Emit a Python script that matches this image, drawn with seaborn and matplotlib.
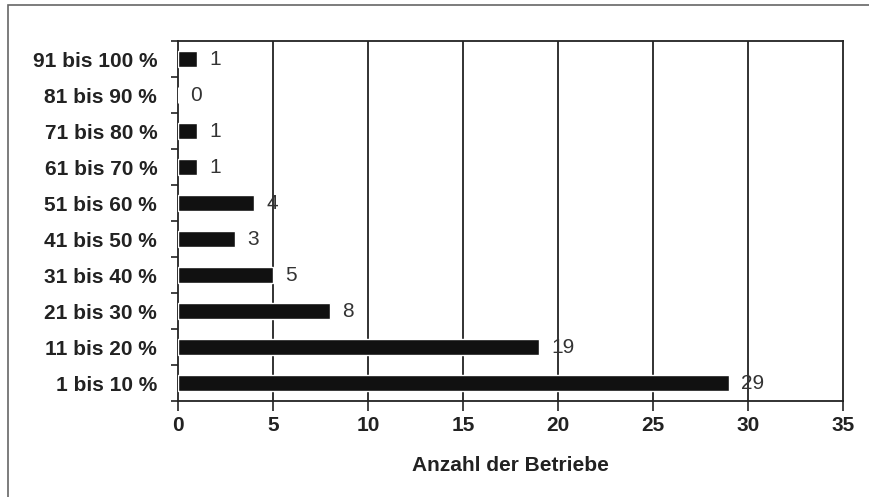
import matplotlib
matplotlib.use("Agg")
import matplotlib.pyplot as plt
from matplotlib.patches import Rectangle
import seaborn as sns
import pandas as pd

categories = ["91 bis 100 %", "81 bis 90 %", "71 bis 80 %", "61 bis 70 %", "51 bis 60 %",
              "41 bis 50 %", "31 bis 40 %", "21 bis 30 %", "11 bis 20 %", "1 bis 10 %"]
counts = [1, 0, 1, 1, 4, 3, 5, 8, 19, 29]
x_ticks = [0, 5, 10, 15, 20, 25, 30, 35]

sns.set_style("white")
plt.rcParams['font.family'] = ['Liberation Sans', 'DejaVu Sans']

df = pd.DataFrame({"Bereich": categories, "Anzahl": counts})

fig = plt.figure(figsize=(8.7, 4.97), dpi=100)
ax = fig.add_axes([0.2046, 0.193, 0.7644, 0.7245])

sns.barplot(data=df, y="Bereich", x="Anzahl", order=categories, orient="h",
            color="#111111", width=0.45, saturation=1, ax=ax, zorder=3)

# vertical grid lines
ax.set_xlim(0, 35)
ax.set_xticks(x_ticks)
for xv in x_ticks[1:-1]:
    ax.axvline(xv, color="#222222", lw=1.3, zorder=1)

# value labels next to the bars
for i, v in enumerate(counts):
    ax.text(v + 0.65, i, str(v), va="center", ha="left", fontsize=15, color="#333333", zorder=4)

# y ticks between categories (minor), no major tick marks
ax.set_yticks(range(len(categories)))
ax.set_yticklabels(categories, fontsize=15, fontweight="bold", color="#222222")
ax.set_yticks([i + 0.5 for i in range(-1, len(categories))], minor=True)
ax.tick_params(axis="y", which="major", length=0, pad=15)
ax.tick_params(axis="y", which="minor", length=5, width=1.2, color="#222222", direction="out", left=True)
ax.tick_params(axis="x", which="major", length=7, width=1.2, color="#222222", direction="out",
               bottom=True, labelsize=15, pad=4)
for lbl in ax.get_xticklabels():
    lbl.set_fontweight("bold")
    lbl.set_color("#222222")
ax.set_ylim(len(categories) - 0.5, -0.5)

ax.set_ylabel("")
ax.set_xlabel("Anzahl der Betriebe", fontsize=15, fontweight="bold", color="#222222", labelpad=15)

for s in ax.spines.values():
    s.set_visible(True)
    s.set_color("#222222")
    s.set_linewidth(1.3)

# outer frame (only top and left edges visible in the picture)
fig.patches.append(Rectangle((8 / 870, -0.2), 1.5, 1.19, transform=fig.transFigure,
                             fill=False, edgecolor="#666666", lw=1.2))

fig.savefig("out.png", dpi=100)
